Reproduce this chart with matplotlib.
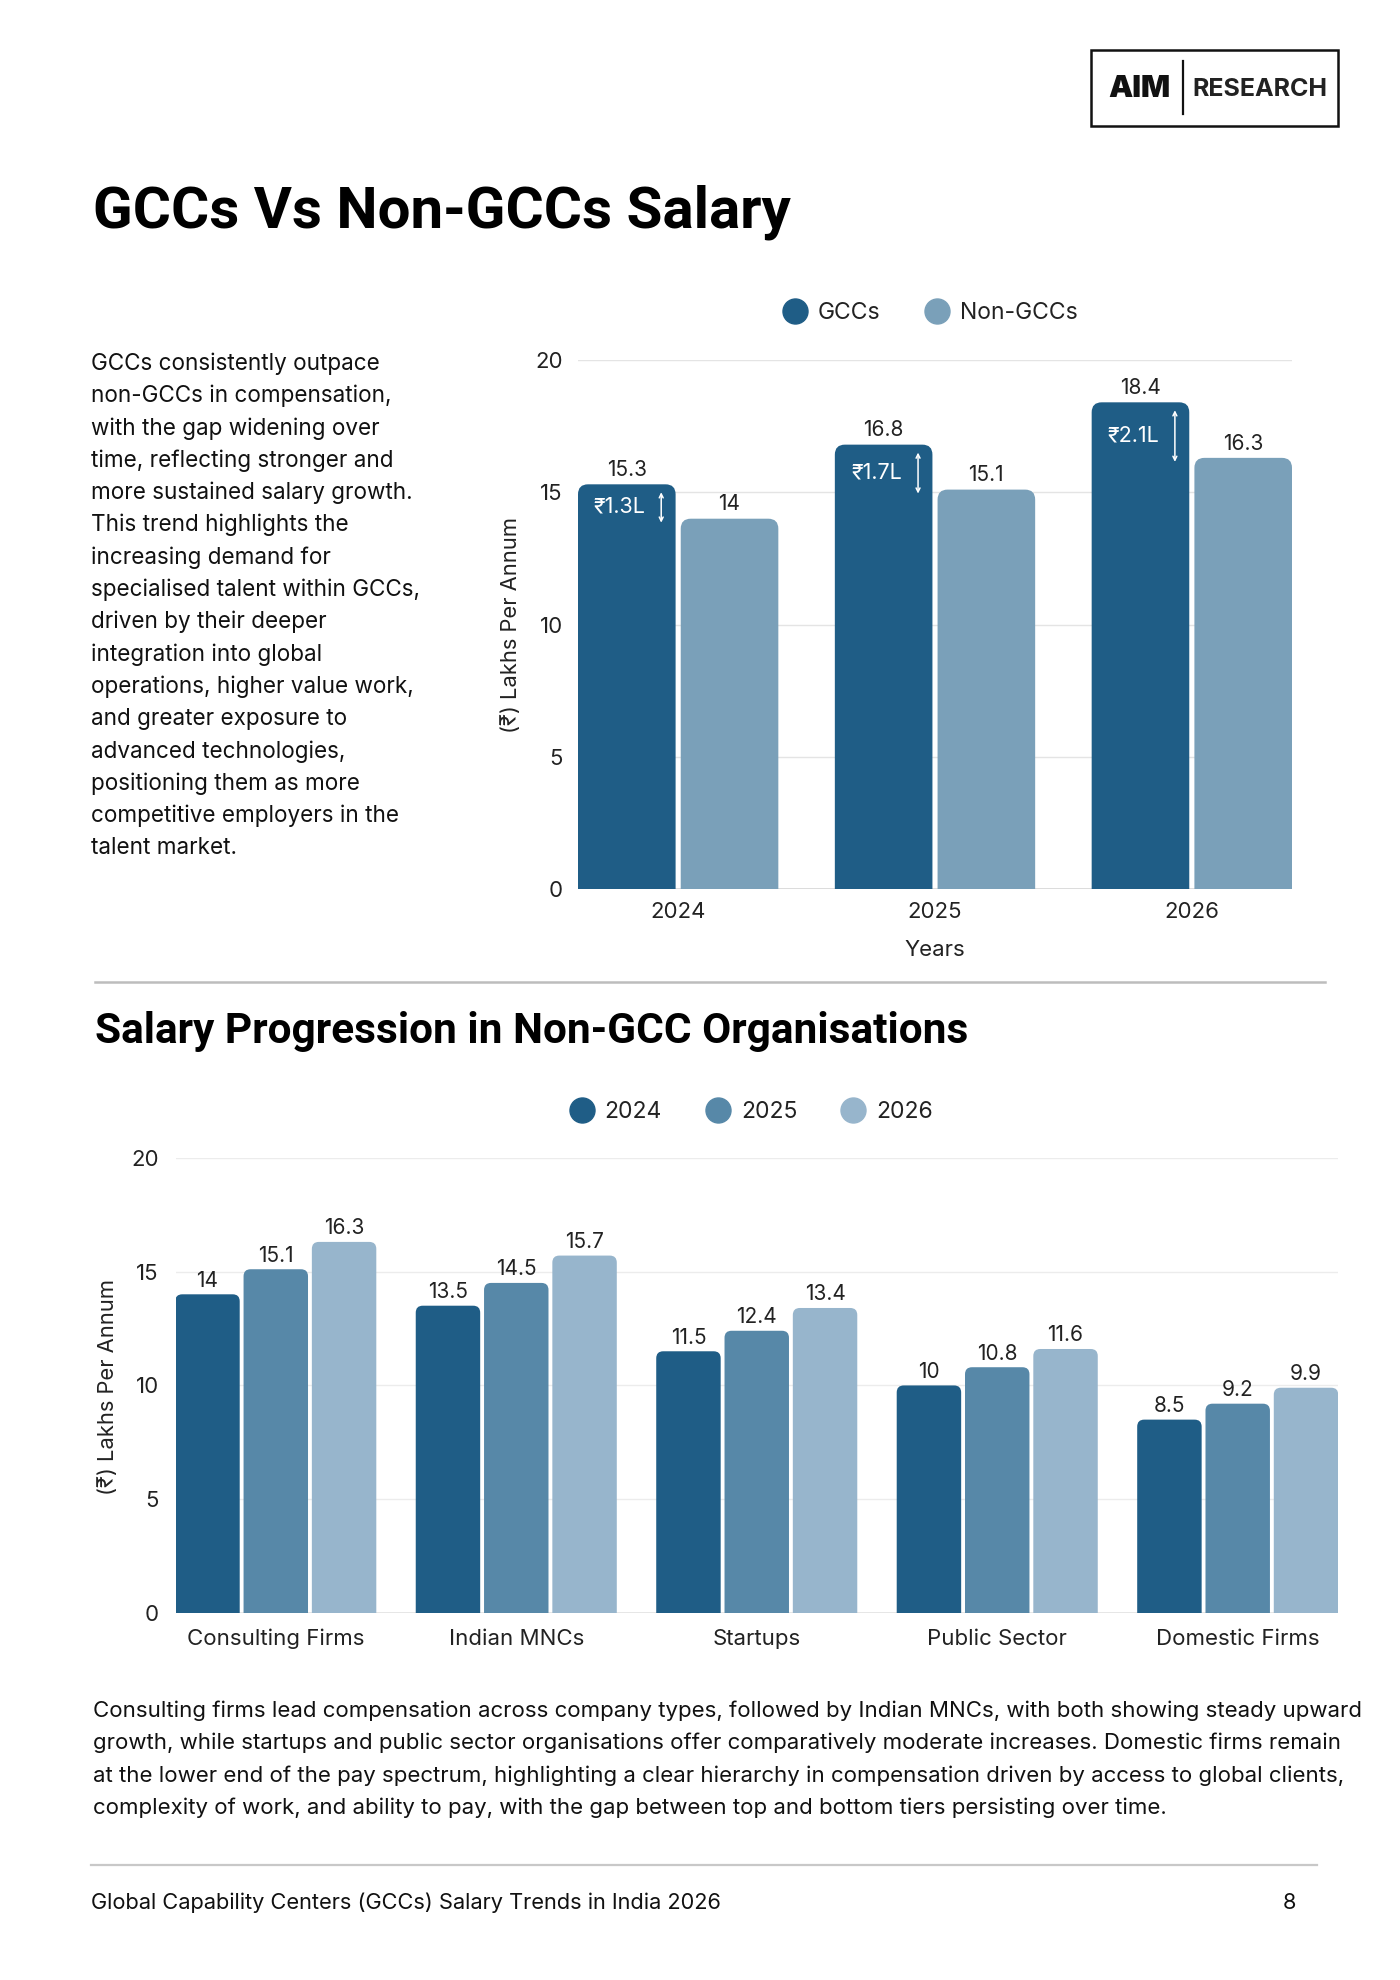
import matplotlib
matplotlib.use("Agg")
import matplotlib.pyplot as plt
from matplotlib.patches import FancyBboxPatch, Rectangle
from matplotlib.lines import Line2D
import numpy as np

plt.rcParams['font.family'] = ['Inter', 'DejaVu Sans']

# данные: верхний график
years = ['2024', '2025', '2026']
gcc = [15.3, 16.8, 18.4]
non_gcc = [14, 15.1, 16.3]
gap_labels = ['₹1.3L', '₹1.7L', '₹2.1L']

# данные: нижний график
org_types = ['Consulting Firms', 'Indian MNCs', 'Startups', 'Public Sector', 'Domestic Firms']
sal_2024 = [14, 13.5, 11.5, 10, 8.5]
sal_2025 = [15.1, 14.5, 12.4, 10.8, 9.2]
sal_2026 = [16.3, 15.7, 13.4, 11.6, 9.9]
series_years = ['2024', '2025', '2026']

left_text = [
    "GCCs consistently outpace",
    "non-GCCs in compensation,",
    "with the gap widening over",
    "time, reflecting stronger and",
    "more sustained salary growth.",
    "This trend highlights the",
    "increasing demand for",
    "specialised talent within GCCs,",
    "driven by their deeper",
    "integration into global",
    "operations, higher value work,",
    "and greater exposure to",
    "advanced technologies,",
    "positioning them as more",
    "competitive employers in the",
    "talent market.",
]
bottom_text = [
    "Consulting firms lead compensation across company types, followed by Indian MNCs, with both showing steady upward",
    "growth, while startups and public sector organisations offer comparatively moderate increases. Domestic firms remain",
    "at the lower end of the pay spectrum, highlighting a clear hierarchy in compensation driven by access to global clients,",
    "complexity of work, and ability to pay, with the gap between top and bottom tiers persisting over time.",
]

DARK = '#1f5d86'
MID = '#5788a8'
LIGHT = '#97b5cc'
NONGCC = '#7aa0b9'
TXT = '#111111'
TITLE_FONT = ['Roboto', 'DejaVu Sans']

W, H = 1400, 1980
fig = plt.figure(figsize=(14, 19.8), dpi=100)


def fx(x):
    return x / W


def fy(y):
    return 1 - y / H


def axes_rect(left, right, top, bottom):
    return [fx(left), fy(bottom), (right - left) / W, (bottom - top) / H]


def round_bars(ax, bars, radius_px):
    # заменяем прямоугольники на скруглённые сверху
    p0 = ax.transData.transform((0, 0))
    p1 = ax.transData.transform((1, 1))
    sx, sy = p1[0] - p0[0], p1[1] - p0[1]
    r = radius_px / sx
    a = sx / sy
    ext = r * a
    for b in bars:
        x, w, h = b.get_x(), b.get_width(), b.get_height()
        p = FancyBboxPatch((x, -ext), w, h + ext,
                           boxstyle=f"round,pad=0,rounding_size={r}",
                           mutation_aspect=a, fc=b.get_facecolor(), ec='none')
        ax.add_patch(p)
        b.set_visible(False)


# логотип
fig.patches.append(Rectangle((fx(1091), fy(126)), (1338 - 1091) / W, (126 - 50) / H,
                             transform=fig.transFigure, fill=False, ec='#111111', lw=1.8))
fig.lines.append(Line2D([fx(1183), fx(1183)], [fy(61), fy(114)], transform=fig.transFigure,
                        color='#111111', lw=1.6))
fig.text(fx(1139), fy(89), 'AIM', ha='center', va='center', fontsize=22, fontweight='black',
         color='#111111')
fig.text(fx(1192), fy(89), 'RESEARCH', ha='left', va='center', fontsize=18, fontweight='bold',
         color='#222222')

# заголовки
fig.text(fx(93), fy(228), 'GCCs Vs Non-GCCs Salary', ha='left', va='baseline',
         fontsize=42, fontweight='bold', color='black', family=TITLE_FONT)
fig.text(fx(95), fy(1043), 'Salary Progression in Non-GCC Organisations', ha='left',
         va='baseline', fontsize=30.5, fontweight='bold', color='black', family=TITLE_FONT)

for i, line in enumerate(left_text):
    fig.text(fx(91), fy(370 + 32.3 * i), line, ha='left', va='baseline', fontsize=16.2, color=TXT)

for i, line in enumerate(bottom_text):
    fig.text(fx(93), fy(1717 + 32.4 * i), line, ha='left', va='baseline', fontsize=16, color=TXT)

# разделители
fig.lines.append(Line2D([fx(95), fx(1325)], [fy(982), fy(982)], transform=fig.transFigure,
                        color='#bdbdbd', lw=1.8))
fig.lines.append(Line2D([fx(91), fx(1317)], [fy(1865), fy(1865)], transform=fig.transFigure,
                        color='#c8c8c8', lw=1.6))

fig.text(fx(91), fy(1909), 'Global Capability Centers (GCCs) Salary Trends in India 2026',
         ha='left', va='baseline', fontsize=15.7, color=TXT)
fig.text(fx(1289), fy(1909), '8', ha='center', va='baseline', fontsize=15.7, color=TXT)

# ---------- верхний график ----------
ax1 = fig.add_axes(axes_rect(578, 1292, 360, 889))
x = np.arange(len(years))
b1 = ax1.bar(x - 0.2, gcc, width=0.38, color=DARK, label='GCCs')
b2 = ax1.bar(x + 0.2, non_gcc, width=0.38, color=NONGCC, label='Non-GCCs')
ax1.set_xlim(-0.39, 2.39)
ax1.set_ylim(0, 20)
ax1.set_yticks([0, 5, 10, 15, 20])
ax1.set_xticks(x)
ax1.set_xticklabels(years)
ax1.grid(axis='y', color='#e4e4e4', lw=1)
ax1.set_axisbelow(True)
for s in ax1.spines.values():
    s.set_visible(False)
ax1.axhline(0, color='#d4d4d4', lw=1.2, zorder=0.5)
ax1.tick_params(length=0, labelsize=16, colors='#222222')
ax1.tick_params(axis='y', pad=11)
ax1.tick_params(axis='x', pad=9)
round_bars(ax1, b1, 10)
round_bars(ax1, b2, 10)

for xi, v in zip(x - 0.2, gcc):
    ax1.annotate(f'{v:g}', (xi, v), xytext=(0, 6), textcoords='offset points',
                 ha='center', va='baseline', fontsize=15, color='#222222')
for xi, v in zip(x + 0.2, non_gcc):
    ax1.annotate(f'{v:g}', (xi, v), xytext=(0, 6), textcoords='offset points',
                 ha='center', va='baseline', fontsize=15, color='#222222')

for xi, g, n, lab in zip(x, gcc, non_gcc, gap_labels):
    ax1.annotate('', xy=(xi - 0.066, g - 0.3), xytext=(xi - 0.066, n - 0.15),
                 arrowprops=dict(arrowstyle='<->', color='white', lw=1.1,
                                 shrinkA=0, shrinkB=0, mutation_scale=7))
    ax1.text(xi - 0.228, (g + n) / 2 - 0.2, lab, ha='center', va='center',
             fontsize=15.5, color='white')

fig.text(fx(511), fy(625), '(₹) Lakhs Per Annum', rotation=90, ha='center', va='center',
         fontsize=15.8, color='#222222')
ax1.set_xlabel('Years', fontsize=16, color='#222222')
ax1.xaxis.set_label_coords(0.5, -0.097)

ax1.legend(handles=[Line2D([], [], ls='', marker='o', ms=18, color=DARK),
                    Line2D([], [], ls='', marker='o', ms=18, color=NONGCC)],
           labels=['GCCs', 'Non-GCCs'], ncol=2, frameon=False, fontsize=16.5,
           loc='center', bbox_to_anchor=(fx(930), fy(313)), bbox_transform=fig.transFigure,
           handlelength=1.1, handletextpad=0.45, columnspacing=1.9, labelcolor='#222222')

# ---------- нижний график ----------
ax2 = fig.add_axes(axes_rect(175.5, 1338, 1157.6, 1613.3))
x2 = np.arange(len(org_types))
step = 0.284
bars2 = []
for k, (vals, col) in enumerate(zip([sal_2024, sal_2025, sal_2026], [DARK, MID, LIGHT])):
    bb = ax2.bar(x2 + (k - 1) * step, vals, width=0.268, color=col, label=series_years[k])
    bars2.append(bb)
    for xi, v in zip(x2 + (k - 1) * step, vals):
        ax2.annotate(f'{v:g}', (xi, v), xytext=(0, 5.4), textcoords='offset points',
                     ha='center', va='baseline', fontsize=15, color='#222222')
ax2.set_xlim(-0.417, 4.417)
ax2.set_ylim(0, 20)
ax2.set_yticks([0, 5, 10, 15, 20])
ax2.set_xticks(x2)
ax2.set_xticklabels(org_types)
ax2.grid(axis='y', color='#ececec', lw=1)
ax2.set_axisbelow(True)
for s in ax2.spines.values():
    s.set_visible(False)
ax2.axhline(0, color='#e0e0e0', lw=1.2, zorder=0.5)
ax2.tick_params(length=0, labelsize=16, colors='#222222')
ax2.tick_params(axis='y', pad=12)
ax2.tick_params(axis='x', pad=11)
for bb in bars2:
    round_bars(ax2, bb, 7)

fig.text(fx(108), fy(1387), '(₹) Lakhs Per Annum', rotation=90, ha='center', va='center',
         fontsize=15.8, color='#222222')

ax2.legend(handles=[Line2D([], [], ls='', marker='o', ms=18, color=c) for c in [DARK, MID, LIGHT]],
           labels=series_years, ncol=3, frameon=False, fontsize=16.5,
           loc='center', bbox_to_anchor=(fx(751), fy(1112)), bbox_transform=fig.transFigure,
           handlelength=1.1, handletextpad=0.45, columnspacing=1.9, labelcolor='#222222')

fig.savefig('out.png', dpi=100, facecolor='white')
